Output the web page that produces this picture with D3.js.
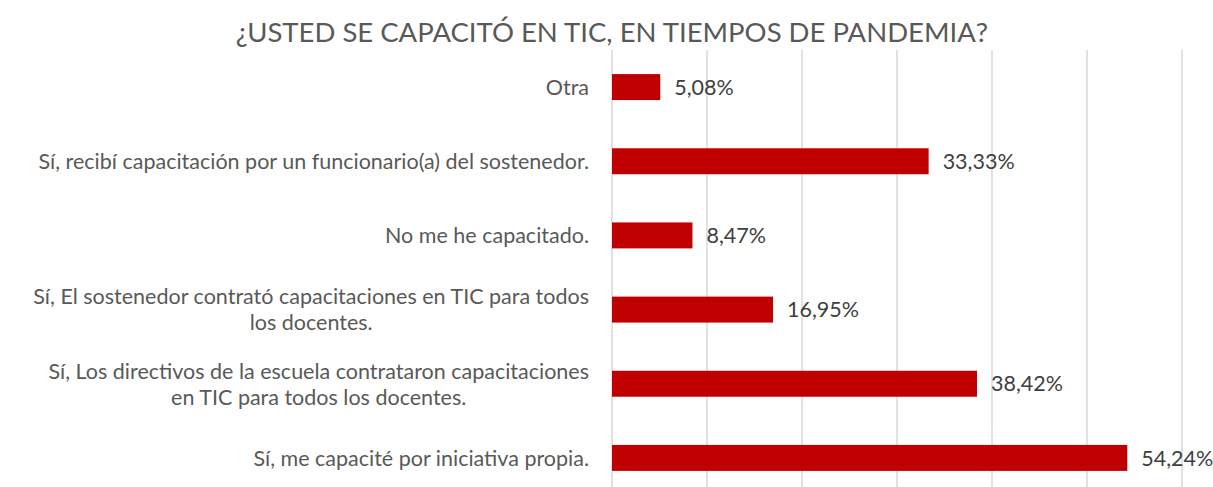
<!DOCTYPE html>
<html>
<head>
<meta charset="utf-8">
<script src="https://cdn.jsdelivr.net/npm/d3@7"></script>
<style>
  body { margin: 0; background: #fff; }
  text { font-family: Lato, "Open Sans", sans-serif; }
</style>
</head>
<body>
<div id="chart"></div>
<script>
// data, top to bottom as in the chart
const categories = [
  ["Otra"],
  ["Sí, recibí capacitación por un funcionario(a) del sostenedor."],
  ["No me he capacitado."],
  ["Sí, El sostenedor contrató capacitaciones en TIC para todos", "los docentes."],
  ["Sí, Los directivos de la escuela contrataron capacitaciones", "en TIC para todos los docentes."],
  ["Sí, me capacité por iniciativa propia."]
];
const values = [5.08, 33.33, 8.47, 16.95, 38.42, 54.24];
const xTicks = [0, 10, 20, 30, 40, 50, 60];
const title = "¿USTED SE CAPACITÓ EN TIC, EN TIEMPOS DE PANDEMIA?";

const width = 1213, height = 487;
const margin = {top: 50, right: 31, bottom: -8, left: 612};

const svg = d3.select("#chart")
  .append("svg")
    .attr("width", width)
    .attr("height", height);

const x = d3.scaleLinear()
  .domain([0, 60])
  .range([margin.left, width - margin.right]);

const y = d3.scaleBand()
  .domain(d3.range(values.length))
  .range([margin.top, height - margin.bottom])
  .paddingInner(0.65)
  .paddingOuter(0.325);

// gridlines
svg.append("g")
  .selectAll("line")
  .data(xTicks)
  .join("line")
    .attr("x1", d => x(d))
    .attr("x2", d => x(d))
    .attr("y1", margin.top)
    .attr("y2", height - margin.bottom)
    .style("stroke", "#d9d9d9")
    .style("stroke-width", 1.5);

// bars
svg.append("g")
  .selectAll("rect")
  .data(values)
  .join("rect")
    .attr("x", x(0))
    .attr("y", (d, i) => y(i))
    .attr("width", d => x(d) - x(0))
    .attr("height", y.bandwidth())
    .style("fill", "#c00000");

// value labels
svg.append("g")
  .selectAll("text")
  .data(values)
  .join("text")
    .attr("x", d => x(d) + 14)
    .attr("y", (d, i) => y(i) + y.bandwidth() / 2)
    .attr("dy", "0.36em")
    .style("font-size", "21.5px")
    .style("fill", "#404040")
    .text(d => d.toFixed(2).replace(".", ",") + "%");

// category labels: each line its own text, block centred and right-aligned to the axis
const lh = 26;
svg.append("g")
  .selectAll("g")
  .data(categories)
  .join("g")
    .attr("transform", (d, i) => `translate(589,${y(i) + y.bandwidth() / 2})`)
  .each(function(lines) {
    const g = d3.select(this);
    const texts = lines.map((l, k) => g.append("text")
      .attr("x", 0)
      .attr("y", (k - (lines.length - 1) / 2) * lh)
      .attr("dy", "0.36em")
      .attr("text-anchor", "middle")
      .style("font-size", "21.5px")
      .style("fill", "#595959")
      .text(l));
    const w = d3.max(texts, t => t.node().getComputedTextLength());
    texts.forEach(t => t.attr("x", -w / 2));
  });

// title
svg.append("text")
  .attr("x", 612)
  .attr("y", 42)
  .attr("text-anchor", "middle")
  .style("font-size", "27.5px")
  .style("fill", "#595959")
  .text(title);
</script>
</body>
</html>
